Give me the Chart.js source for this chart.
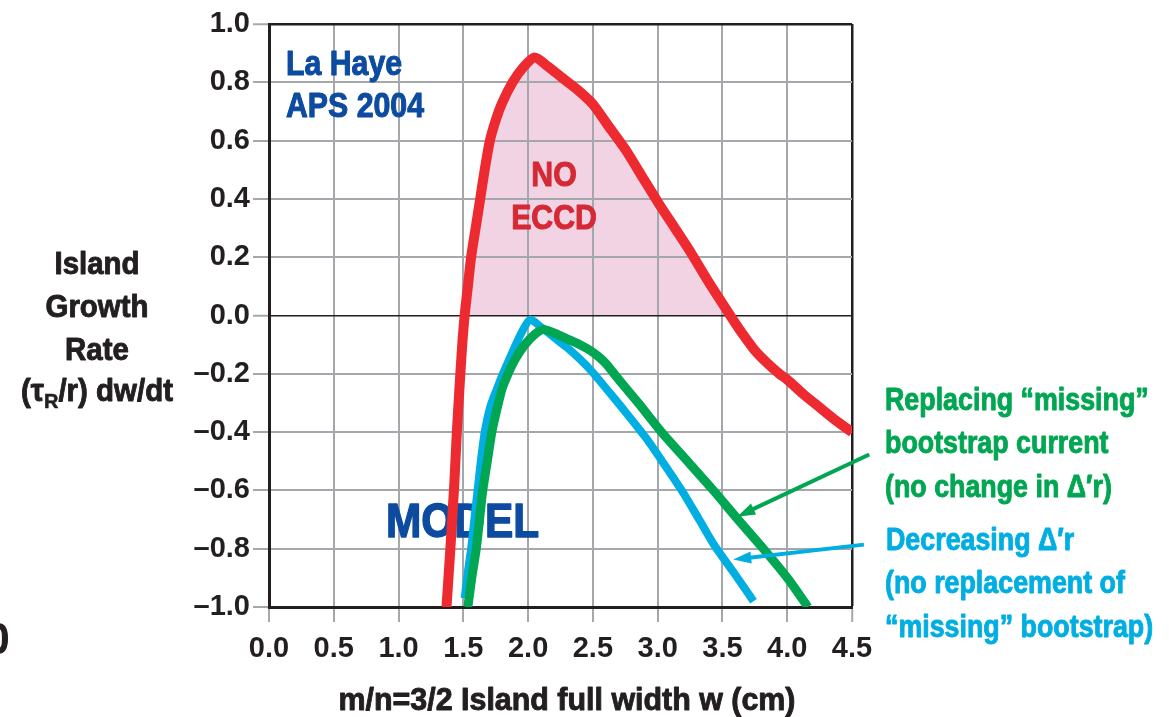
<!DOCTYPE html>
<html>
<head>
<meta charset="utf-8">
<script src="https://cdn.jsdelivr.net/npm/chart.js@4.4.1/dist/chart.umd.min.js"></script>
<style>
  html, body { margin: 0; padding: 0; background: #fff; overflow: hidden; }
  canvas { display: block; }
</style>
</head>
<body>
<canvas id="c" width="1169" height="717"></canvas>
<script>
// Island growth rate vs island full width, three model cases
const noEccdW    = [1.37, 1.40, 1.43, 1.45, 1.47, 1.49, 1.51, 1.535, 1.56, 1.595, 1.63, 1.665, 1.705, 1.75, 1.80, 1.88, 1.96, 2.05,
                    2.15, 2.25, 2.38, 2.50, 2.62, 2.75, 2.875, 3.00, 3.125, 3.25, 3.40, 3.56, 3.65, 3.75, 3.85, 3.94, 4.00, 4.125, 4.25, 4.375, 4.50];
const noEccdRate = [-1.00, -0.80, -0.58, -0.40, -0.25, -0.11, 0.00, 0.10, 0.20, 0.30, 0.40, 0.50, 0.60, 0.67, 0.73, 0.80, 0.85, 0.885,
                    0.855, 0.82, 0.775, 0.725, 0.65, 0.57, 0.48, 0.39, 0.305, 0.22, 0.11, 0.00, -0.06, -0.12, -0.165, -0.20, -0.22, -0.27, -0.315, -0.36, -0.40];

const replacedW    = [1.535, 1.565, 1.60, 1.625, 1.65, 1.685, 1.72, 1.76, 1.80, 1.845, 1.90, 1.975, 2.05, 2.117, 2.20, 2.30, 2.40, 2.48, 2.54, 2.60,
                      2.70, 2.85, 3.03, 3.23, 3.43, 3.62, 3.815, 4.00, 4.16];
const replacedRate = [-1.00, -0.90, -0.80, -0.70, -0.60, -0.50, -0.40, -0.32, -0.25, -0.20, -0.15, -0.10, -0.065, -0.048, -0.06, -0.08, -0.10, -0.12, -0.14, -0.165,
                      -0.22, -0.30, -0.40, -0.50, -0.60, -0.70, -0.80, -0.90, -1.00];

const decreasedW    = [1.51, 1.535, 1.56, 1.585, 1.61, 1.635, 1.665, 1.71, 1.765, 1.805, 1.855, 1.905, 1.96, 2.015, 2.10, 2.20, 2.30, 2.40, 2.50,
                       2.62, 2.75, 2.91, 3.05, 3.20, 3.32, 3.44, 3.60, 3.74];
const decreasedRate = [-0.97, -0.88, -0.80, -0.70, -0.60, -0.50, -0.40, -0.31, -0.245, -0.20, -0.15, -0.10, -0.05, -0.014, -0.04, -0.075, -0.11, -0.15, -0.196,
                       -0.26, -0.33, -0.42, -0.51, -0.61, -0.70, -0.79, -0.89, -0.98];

const xTickLabels = ['0.0', '0.5', '1.0', '1.5', '2.0', '2.5', '3.0', '3.5', '4.0', '4.5'];
const yTickLabels = ['\u20131.0', '\u20130.8', '\u20130.6', '\u20130.4', '\u20130.2', '0.0', '0.2', '0.4', '0.6', '0.8', '1.0'];

const FONT = "'Liberation Sans', Arial, Helvetica, sans-serif";
const NARROW = 0.865;   // horizontal squeeze for the condensed lettering
const TITLE_SQUEEZE = 0.95;
const INK = '#231f20';
const GRID = '#a4a8ad';
const RED = '#ec2a30';
const GREEN = '#00a651';
const CYAN = '#00aee2';
const NAVY = '#0d4ba0';

const pts = (xs, ys) => xs.map((x, i) => ({ x: x, y: ys[i] }));

function text(ctx, str, x, y, size, color, align, squeeze) {
  const k = squeeze || NARROW;
  ctx.save();
  ctx.font = 'bold ' + size + 'px ' + FONT;
  ctx.fillStyle = color;
  ctx.strokeStyle = color;
  ctx.lineWidth = size * 0.03;
  ctx.lineJoin = 'round';
  ctx.textAlign = align || 'left';
  ctx.textBaseline = 'alphabetic';
  ctx.scale(k, 1);
  ctx.fillText(str, x / k, y);
  ctx.strokeText(str, x / k, y);
  ctx.restore();
}

function textWidth(ctx, str, size, squeeze) {
  ctx.save();
  ctx.font = 'bold ' + size + 'px ' + FONT;
  const w = ctx.measureText(str).width * (squeeze || NARROW);
  ctx.restore();
  return w;
}

function arrow(ctx, x0, y0, x1, y1, color) {
  const ang = Math.atan2(y1 - y0, x1 - x0);
  const len = 18, half = 6;
  const bx = x1 - len * Math.cos(ang), by = y1 - len * Math.sin(ang);
  ctx.save();
  ctx.strokeStyle = color;
  ctx.lineWidth = 4;
  ctx.lineCap = 'butt';
  ctx.beginPath();
  ctx.moveTo(x0, y0);
  ctx.lineTo(bx + 4 * Math.cos(ang), by + 4 * Math.sin(ang));
  ctx.stroke();
  ctx.fillStyle = color;
  ctx.beginPath();
  ctx.moveTo(x1, y1);
  ctx.lineTo(bx - half * Math.sin(ang), by + half * Math.cos(ang));
  ctx.lineTo(bx + half * Math.sin(ang), by - half * Math.cos(ang));
  ctx.closePath();
  ctx.fill();
  ctx.restore();
}

// Labels that sit inside the plot, beneath the curves
const innerText = {
  id: 'innerText',
  beforeDatasetsDraw(chart) {
    const ctx = chart.ctx, xs = chart.scales.x, ys = chart.scales.y;
    text(ctx, 'La Haye', 286, 75, 35, NAVY);
    text(ctx, 'APS 2004', 286, 117, 35, NAVY);
    text(ctx, 'NO', xs.getPixelForValue(2.2), ys.getPixelForValue(0.445), 35, '#d42a35', 'center');
    text(ctx, 'ECCD', xs.getPixelForValue(2.2), ys.getPixelForValue(0.296), 35, '#d42a35', 'center');
    text(ctx, 'MODEL', 386, 537, 49, NAVY);
  }
};

// Axis titles, annotations and pointers
const outerText = {
  id: 'outerText',
  afterDraw(chart) {
    const ctx = chart.ctx, xs = chart.scales.x, ys = chart.scales.y;
    const T = TITLE_SQUEEZE;
    // left axis title
    text(ctx, 'Island', 97, 274, 31, INK, 'center', T);
    text(ctx, 'Growth', 97, 317, 31, INK, 'center', T);
    text(ctx, 'Rate', 97, 360, 31, INK, 'center', T);
    // "(τR/r) dw/dt" with subscript R
    const p1 = '(\u03c4', p3 = '/r) dw/dt';
    const w1 = textWidth(ctx, p1, 31, T), w2 = textWidth(ctx, 'R', 21, T), w3 = textWidth(ctx, p3, 31, T);
    const sx = 97 - (w1 + w2 + w3) / 2;
    text(ctx, p1, sx, 401, 31, INK, 'left', T);
    text(ctx, 'R', sx + w1, 408, 21, INK, 'left', T);
    text(ctx, p3, sx + w1 + w2, 401, 31, INK, 'left', T);
    // bottom axis title
    text(ctx, 'm/n=3/2 Island full width w (cm)', 567, 710, 32, INK, 'center', T);
    // edge fragment
    text(ctx, '0', 9, 653, 42, INK, 'right');

    // annotations
    text(ctx, 'Replacing \u201cmissing\u201d', 885, 410, 31, GREEN);
    text(ctx, 'bootstrap current', 885, 453, 31, GREEN);
    text(ctx, '(no change in \u0394\u2032r)', 885, 497, 31, GREEN);
    text(ctx, 'Decreasing \u0394\u2032r', 886, 550, 31, CYAN);
    text(ctx, '(no replacement of', 885, 593, 31, CYAN);
    text(ctx, '\u201cmissing\u201d bootstrap)', 885, 637, 31, CYAN);

    arrow(ctx, xs.getPixelForValue(4.633), ys.getPixelForValue(-0.477),
               xs.getPixelForValue(3.614), ys.getPixelForValue(-0.69), GREEN);
    arrow(ctx, xs.getPixelForValue(4.592), ys.getPixelForValue(-0.786),
               xs.getPixelForValue(3.583), ys.getPixelForValue(-0.837), CYAN);
  }
};

const near = (a, b) => Math.abs(a - b) < 1e-6;

const lineStyle = (color, width) => ({
  showLine: true,
  borderColor: color,
  borderWidth: width,
  pointRadius: 0,
  tension: 0.25,
  borderCapStyle: 'butt',
  borderJoinStyle: 'round'
});

new Chart(document.getElementById('c'), {
  type: 'scatter',
  data: {
    datasets: [
      Object.assign({
        label: 'No ECCD',
        data: pts(noEccdW, noEccdRate),
        fill: { target: { value: 0 }, above: '#f2d3e4', below: 'rgba(0,0,0,0)' }
      }, lineStyle(RED, 10)),
      Object.assign({
        label: 'Replacing missing bootstrap current',
        data: pts(replacedW, replacedRate)
      }, lineStyle(GREEN, 9)),
      Object.assign({
        label: 'Decreasing Delta-prime r',
        data: pts(decreasedW, decreasedRate)
      }, lineStyle(CYAN, 8))
    ]
  },
  options: {
    responsive: false,
    animation: false,
    devicePixelRatio: 1,
    layout: { padding: { left: 0, right: 317, top: 24, bottom: 0 } },
    plugins: {
      legend: { display: false },
      tooltip: { enabled: false },
      filler: { drawTime: 'beforeDraw' }
    },
    scales: {
      x: {
        type: 'linear',
        min: 0, max: 4.5,
        afterFit(s) { s.height = 110; },
        ticks: {
          stepSize: 0.5,
          autoSkip: false,
          maxRotation: 0,
          padding: 10,
          color: INK,
          font: { family: FONT, size: 29, weight: 'bold' },
          callback: (v, i) => xTickLabels[i]
        },
        grid: {
          color: c => (c.tick && near(c.tick.value, 4.5)) ? INK : GRID,
          lineWidth: c => (c.tick && near(c.tick.value, 4.5)) ? 2.5 : 2,
          tickLength: 15,
          tickColor: GRID,
          tickWidth: 2
        },
        border: { display: true, color: INK, width: 3 }
      },
      y: {
        type: 'linear',
        min: -1, max: 1,
        afterFit(s) { s.width = 269; },
        ticks: {
          stepSize: 0.2,
          padding: 3,
          color: INK,
          font: { family: FONT, size: 29, weight: 'bold' },
          callback: (v, i) => yTickLabels[i]
        },
        grid: {
          color: c => (c.tick && (near(c.tick.value, 1) || near(c.tick.value, 0))) ? INK : GRID,
          lineWidth: c => (c.tick && near(c.tick.value, 1)) ? 2.5 : (c.tick && near(c.tick.value, 0) ? 1.5 : 2),
          tickLength: 16,
          tickColor: GRID,
          tickWidth: 2
        },
        border: { display: true, color: INK, width: 3 }
      }
    }
  },
  plugins: [innerText, outerText]
});
</script>
</body>
</html>
